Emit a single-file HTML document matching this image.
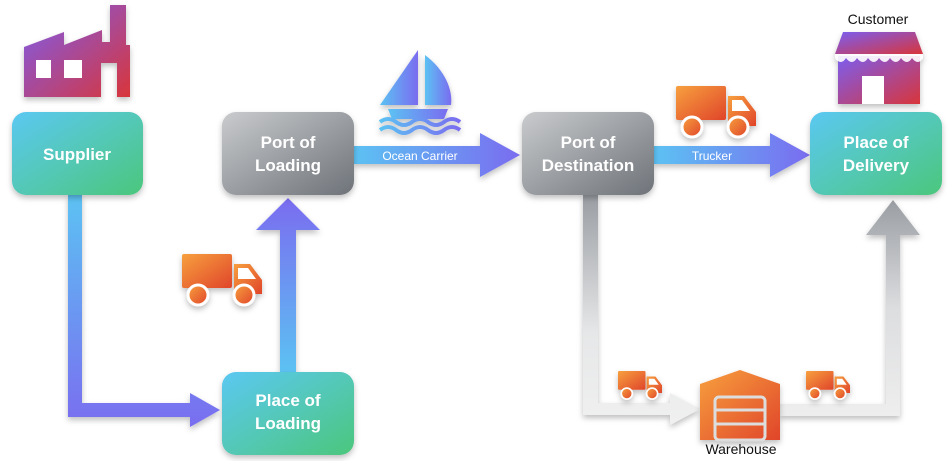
<!DOCTYPE html>
<html><head><style>
body{margin:0;background:#fff;}
svg{display:block;font-family:"Liberation Sans",sans-serif;}
.bt{font-weight:bold;fill:#fff;font-size:17px;text-anchor:middle;}
</style></head><body>
<svg width="948" height="461" viewBox="0 0 948 461">
<defs>
<linearGradient id="g1" x1="0" y1="0" x2="1" y2="1"><stop offset="0" stop-color="#5bc8f2"/><stop offset="1" stop-color="#4cc77c"/></linearGradient>
<linearGradient id="gg" x1="0" y1="0" x2="1" y2="1"><stop offset="0" stop-color="#c9cbcd"/><stop offset="1" stop-color="#6e7379"/></linearGradient>
<linearGradient id="ba" x1="0" y1="0" x2="1" y2="0"><stop offset="0" stop-color="#5cc2f3"/><stop offset="1" stop-color="#7a6cf0"/></linearGradient>
<linearGradient id="bv" x1="0" y1="1" x2="0" y2="0"><stop offset="0" stop-color="#5cc2f3"/><stop offset="1" stop-color="#7a6cf0"/></linearGradient>
<linearGradient id="sup" gradientUnits="userSpaceOnUse" x1="0" y1="195" x2="0" y2="430"><stop offset="0" stop-color="#5cc2f3"/><stop offset="1" stop-color="#7a6cf0"/></linearGradient>
<linearGradient id="fac" x1="0" y1="0" x2="1" y2="1"><stop offset="0" stop-color="#7b5ef0"/><stop offset="1" stop-color="#d8353b"/></linearGradient>
<linearGradient id="or" x1="0" y1="0" x2="1" y2="1"><stop offset="0" stop-color="#f7a03e"/><stop offset="1" stop-color="#e0452a"/></linearGradient>
<linearGradient id="grv" x1="0" y1="0" x2="0" y2="1"><stop offset="0" stop-color="#9a9ea3"/><stop offset="0.6" stop-color="#e6e7e8"/><stop offset="1" stop-color="#f0f0f0"/></linearGradient>
<linearGradient id="grv2" x1="0" y1="1" x2="0" y2="0"><stop offset="0" stop-color="#eeeeee"/><stop offset="0.5" stop-color="#dcdddf"/><stop offset="1" stop-color="#9a9ea3"/></linearGradient>
<filter id="sh" x="-20%" y="-20%" width="140%" height="150%"><feDropShadow dx="0" dy="3" stdDeviation="3" flood-opacity="0.25"/></filter>
<g id="truck"><rect x="0" y="0" width="50" height="34" rx="2" fill="url(#or)"/><path d="M52 10h16l12 16v14h-28z" fill="url(#or)"/><path d="M56 14h10l8 11h-18z" fill="#fff"/><circle cx="16" cy="41" r="10" fill="url(#or)" stroke="#fff" stroke-width="3"/><circle cx="62" cy="41" r="10" fill="url(#or)" stroke="#fff" stroke-width="3"/></g>
</defs>

<path d="M68 195h14v208h108v-10l30 17-30 17v-10h-122z" fill="url(#sup)" filter="url(#sh)"/>
<path d="M280 372v-142h-24l32-32 32 32h-24v142z" fill="url(#bv)" filter="url(#sh)"/>
<path d="M354 146h126v-13l40 22-40 22v-13h-126z" fill="url(#ba)" filter="url(#sh)"/>
<text x="420" y="160" font-size="12" fill="#fff" text-anchor="middle">Ocean Carrier</text>
<path d="M654 146h116v-13l40 22-40 22v-13h-116z" fill="url(#ba)" filter="url(#sh)"/>
<text x="712" y="160" font-size="12" fill="#fff" text-anchor="middle">Trucker</text>
<path d="M583 195h15v208h72v-10l30 16-30 16v-10h-87z" fill="url(#grv)" filter="url(#sh)"/>
<path d="M780 404h106v-169h-20l27-35 27 35h-20v181h-120z" fill="url(#grv2)" filter="url(#sh)"/>

<g filter="url(#sh)">
<rect x="12" y="112" width="131" height="83" rx="14" fill="url(#g1)"/>
<rect x="222" y="112" width="132" height="83" rx="14" fill="url(#gg)"/>
<rect x="522" y="112" width="132" height="83" rx="14" fill="url(#gg)"/>
<rect x="810" y="112" width="132" height="83" rx="14" fill="url(#g1)"/>
<rect x="222" y="372" width="132" height="83" rx="14" fill="url(#g1)"/>
</g>
<text class="bt" x="77" y="160">Supplier</text>
<text class="bt" x="288" y="148">Port of</text><text class="bt" x="288" y="171">Loading</text>
<text class="bt" x="588" y="148">Port of</text><text class="bt" x="588" y="171">Destination</text>
<text class="bt" x="876" y="148">Place of</text><text class="bt" x="876" y="171">Delivery</text>
<text class="bt" x="288" y="406">Place of</text><text class="bt" x="288" y="429">Loading</text>

<path d="M24 47l40-15v13l38-15v12h8v-37h16v40h4v52h-13v-34h-16v34h-77z" fill="url(#fac)" filter="url(#sh)"/>
<rect x="36" y="60" width="15" height="18" fill="#fff"/><rect x="64" y="60" width="18" height="18" fill="#fff"/>

<g filter="url(#sh)">
<path d="M418 50v55h-38z" fill="url(#ba)"/><path d="M425 55c20 15 28 35 26 50h-26z" fill="url(#ba)"/>
<path d="M388 109h60l-4 10h-52z" fill="url(#ba)"/>
<path d="M380 122q8-6 16 0t16 0t16 0t16 0t16 0M380 130q8-6 16 0t16 0t16 0t16 0t16 0" stroke="url(#ba)" stroke-width="4" fill="none"/>
</g>

<g filter="url(#sh)">
<use href="#truck" transform="translate(676,86)"/>
<use href="#truck" transform="translate(182,254)"/>
<use href="#truck" transform="translate(618,371) scale(0.55)"/>
<use href="#truck" transform="translate(806,371) scale(0.55)"/>
</g>

<g filter="url(#sh)">
<rect x="838" y="56" width="82" height="48" fill="url(#fac)"/>
<path d="M843 32h72l8 22h-88z" fill="url(#fac)"/>
<path d="M835 54h88v4q-5 8-11 0q-5 8-11 0q-5 8-11 0q-5 8-11 0q-5 8-11 0q-5 8-11 0q-5 8-11 0q-5 8-11 0z" fill="#fff" opacity="0.9"/>
<rect x="862" y="76" width="22" height="28" fill="#fff"/>
</g>
<text x="878" y="24" font-size="14" text-anchor="middle" fill="#111">Customer</text>

<g filter="url(#sh)">
<path d="M700 384l40-14 40 14v56h-80z" fill="url(#or)"/>
<rect x="715" y="397" width="50" height="43" rx="4" fill="none" stroke="#ddd" stroke-width="3"/>
<path d="M716 410h48M716 424h48" stroke="#ddd" stroke-width="3"/>
</g>
<text x="741" y="454" font-size="14" text-anchor="middle" fill="#111">Warehouse</text>
</svg>
</body></html>
